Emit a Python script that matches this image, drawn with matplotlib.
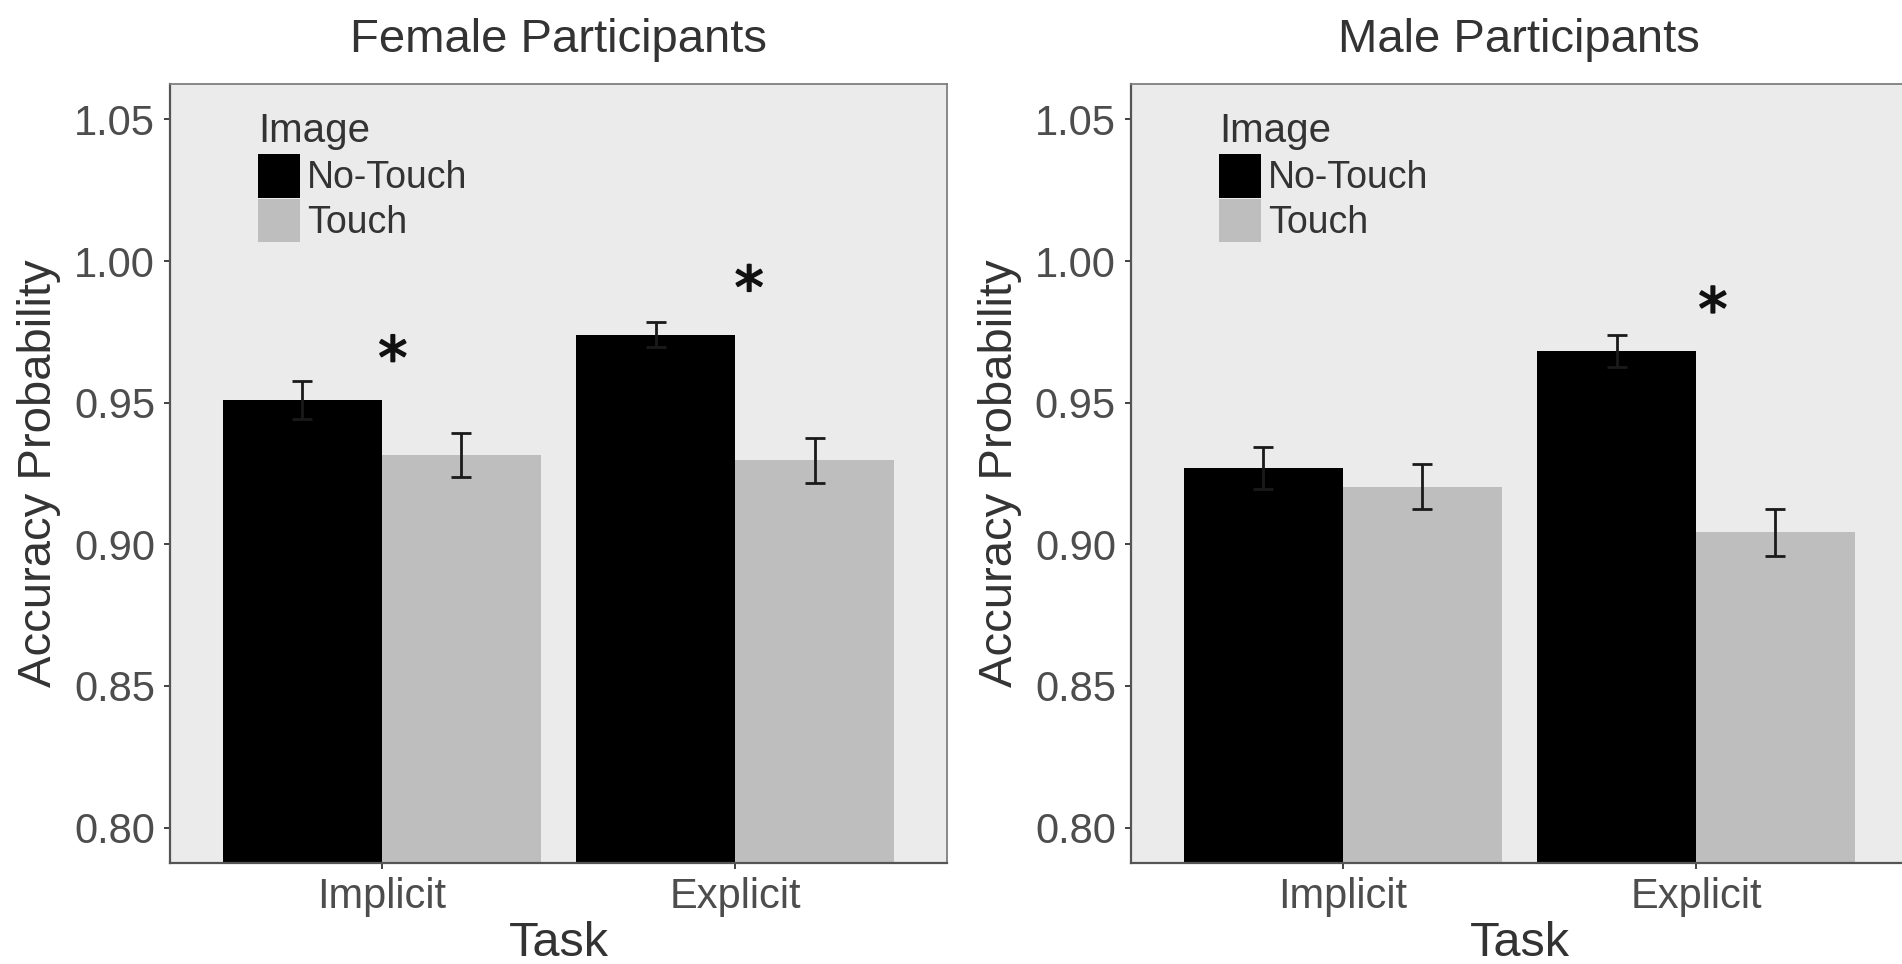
import matplotlib
matplotlib.use("Agg")
import matplotlib.pyplot as plt
from matplotlib.patches import Patch
from matplotlib import transforms
import matplotlib.patheffects as pe

plt.rcParams["font.family"] = ["Liberation Sans", "DejaVu Sans"]

tasks = ["Implicit", "Explicit"]
images = ["No-Touch", "Touch"]
panel_titles = ["Female Participants", "Male Participants"]

# mean accuracy and standard error per task
female_no_touch = [0.9510, 0.9740]
female_no_touch_se = [0.0068, 0.0044]
female_touch = [0.9315, 0.9296]
female_touch_se = [0.0078, 0.0078]

male_no_touch = [0.9268, 0.9683]
male_no_touch_se = [0.0074, 0.0057]
male_touch = [0.9203, 0.9042]
male_touch_se = [0.0079, 0.0084]

# significance markers (x in task units, y in accuracy units)
female_star_x = [1.031, 2.04]
female_star_y = [0.9700, 0.9948]
male_star_x = [2.048]
male_star_y = [0.9872]

yticks = [0.80, 0.85, 0.90, 0.95, 1.00, 1.05]

bar_colors = ["#000000", "#BEBEBE"]
panel_bg = "#EBEBEB"
text_col = "#333333"
tick_col = "#4D4D4D"

panels = [
    (female_no_touch, female_no_touch_se, female_touch, female_touch_se,
     female_star_x, female_star_y),
    (male_no_touch, male_no_touch_se, male_touch, male_touch_se,
     male_star_x, male_star_y),
]

fig = plt.figure(figsize=(19.02, 9.64), dpi=100)
lefts = [0.0894, 0.5946]
star_size = 42

for i, (no_t, no_se, t, t_se, sx, sy) in enumerate(panels):
    ax = fig.add_axes([lefts[i], 0.1048, 0.4085, 0.808])
    ax.set_facecolor(panel_bg)
    x = [1, 2]
    w = 0.45
    x_no = [v - w / 2 for v in x]
    x_t = [v + w / 2 for v in x]
    ax.bar(x_no, no_t, width=w, color=bar_colors[0], zorder=2)
    ax.bar(x_t, t, width=w, color=bar_colors[1], zorder=2)
    for xs, ys, es in [(x_no, no_t, no_se), (x_t, t, t_se)]:
        ax.errorbar(xs, ys, yerr=es, fmt="none", ecolor="#1a1a1a",
                    elinewidth=2.0, capsize=7, capthick=2.0, zorder=3)

    # star glyph sits above the baseline, so shift it down to centre it
    star_tr = transforms.offset_copy(ax.transData, fig=fig,
                                     y=-0.55 * star_size, units="points")
    for px, py in zip(sx, sy):
        ax.text(px, py, "*", ha="center", va="baseline", fontsize=star_size,
                family="DejaVu Sans", color="#111111", transform=star_tr,
                zorder=4,
                path_effects=[pe.withStroke(linewidth=1.3,
                                            foreground="#111111")])

    ax.set_xlim(0.4, 2.6)
    ax.set_ylim(0.7875, 1.0625)
    ax.set_xticks(x)
    ax.set_xticklabels(tasks)
    ax.set_yticks(yticks)
    ax.set_yticklabels([f"{v:.2f}" for v in yticks])
    ax.tick_params(axis="both", labelsize=30, labelcolor=tick_col,
                   color="#333333", length=4.3, width=1.3)
    ax.tick_params(axis="y", pad=6.5)
    ax.tick_params(axis="x", pad=5.5)
    for side in ["top", "right", "left", "bottom"]:
        ax.spines[side].set_color("#7F7F7F")
        ax.spines[side].set_linewidth(1.3)
    for side in ["left", "bottom"]:
        ax.spines[side].set_color("#555555")
        ax.spines[side].set_linewidth(1.6)
    ax.spines["bottom"].set_zorder(5)

    ax.set_title(panel_titles[i], fontsize=34, color=text_col, pad=23)
    ax.set_xlabel("Task", fontsize=35, color=text_col, labelpad=3)
    ax.set_ylabel("Accuracy Probability", fontsize=34, color=text_col,
                  labelpad=9.5)

    handles = [Patch(facecolor=c, edgecolor="none") for c in bar_colors]
    leg = ax.legend(handles, images, title="Image", loc="upper left",
                    bbox_to_anchor=(0.1133, 0.9645), frameon=False,
                    fontsize=27, title_fontsize=29, borderpad=0,
                    borderaxespad=0, handlelength=1.12, handleheight=1.39,
                    handletextpad=0.18, labelspacing=0.03,
                    alignment="left")
    leg._legend_box.sep = 3.4
    for txt in leg.get_texts():
        txt.set_color(text_col)
    leg.get_title().set_color(text_col)

fig.savefig("out.png", dpi=100, facecolor="white")
